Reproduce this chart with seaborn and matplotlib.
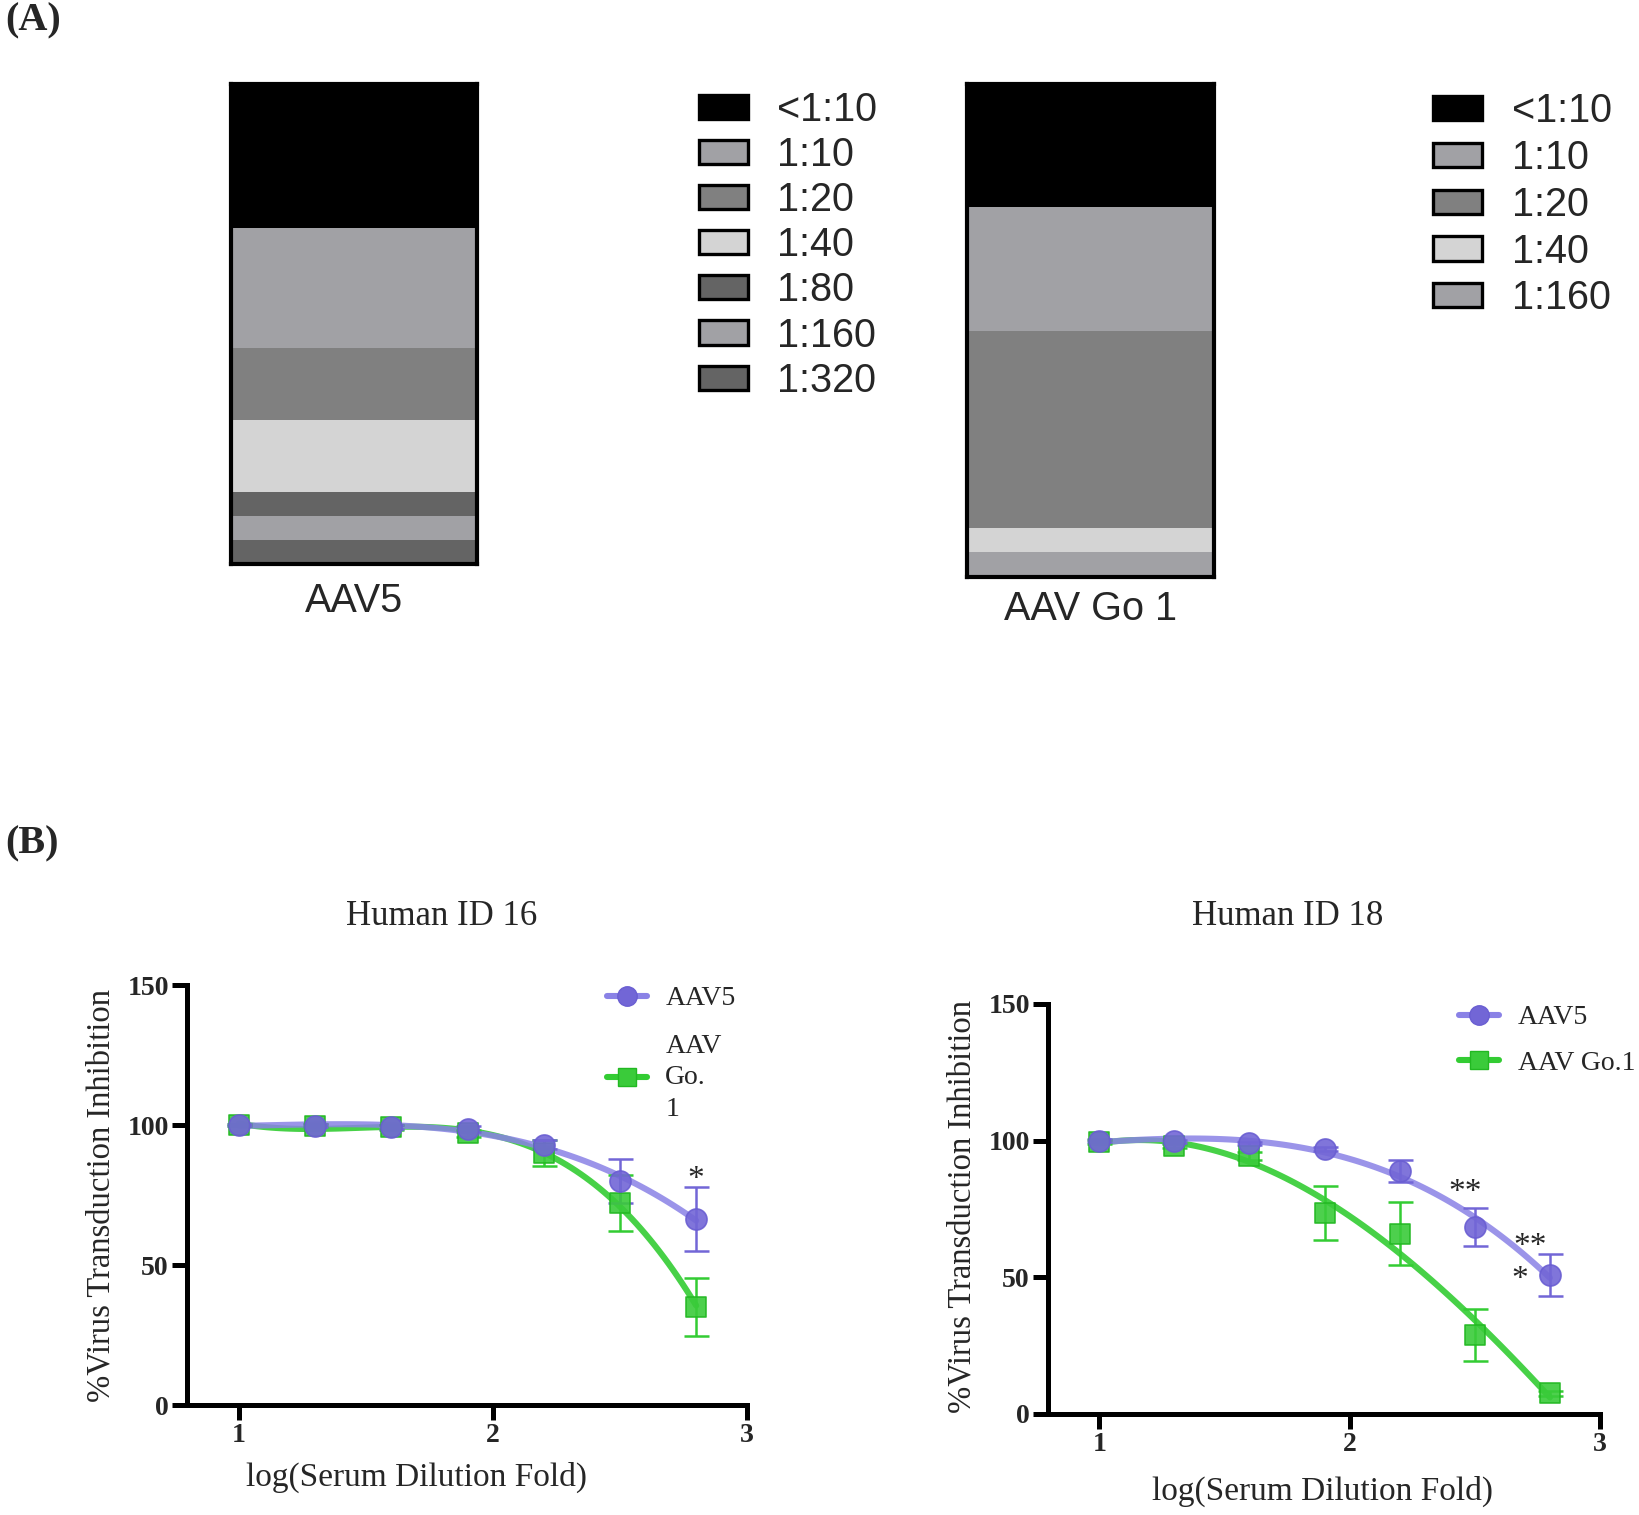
import numpy as np
import pandas as pd
import seaborn as sns
import matplotlib.pyplot as plt
from matplotlib.patches import Patch
from matplotlib.lines import Line2D

# ---- panel A data: share of sera per NAb titer (%)
titers_aav5 = ["<1:10", "1:10", "1:20", "1:40", "1:80", "1:160", "1:320"]
pct_aav5 = [30, 25, 15, 15, 5, 5, 5]
titers_go1 = ["<1:10", "1:10", "1:20", "1:40", "1:160"]
pct_go1 = [25, 25, 40, 5, 5]
titer_colors = {"<1:10": "#000000", "1:10": "#a1a1a5", "1:20": "#808080",
                "1:40": "#d4d4d4", "1:80": "#646464", "1:160": "#a1a1a5",
                "1:320": "#646464"}

# ---- panel B data
log_dil = [1.0, 1.3, 1.6, 1.9, 2.2, 2.5, 2.8]
id16_aav5 = [100, 99.8, 99.3, 98.5, 93, 80, 66.5]
id16_aav5_err = [0.5, 0.5, 0.6, 1.0, 1.5, 8, 11.5]
id16_go1 = [100, 99.8, 99.2, 97, 90, 72, 35]
id16_go1_err = [0.5, 0.5, 0.8, 1.2, 4.5, 10, 10.3]
id18_aav5 = [100, 99.8, 99, 97, 89, 68.5, 51]
id18_aav5_err = [0.5, 0.5, 0.6, 0.8, 4, 7, 7.7]
id18_go1 = [99.5, 98, 94.5, 73.5, 66, 29, 7.5]
id18_go1_err = [0.6, 0.8, 1.5, 10, 11.5, 9.5, 1.0]

PURPLE_LINE = "#8a82e6"
PURPLE_MK = "#7266d6"
GREEN_LINE = "#33cc33"
GREEN_MK = "#3acb3a"

sns.set_style("white")
plt.rcParams["font.family"] = ["Liberation Sans", "DejaVu Sans"]
SERIF = ["Liberation Serif", "DejaVu Serif"]

fig = plt.figure(figsize=(16.4, 15.15), dpi=100)


def stacked_bar(rect, titers, pct, name, leg_anchor, leg_spacing, labelpad):
    ax = fig.add_axes(rect)
    bottom = 0
    for t, p in zip(titers, pct):
        ax.bar(0, p, bottom=bottom, width=1.0, color=titer_colors[t],
               edgecolor="none", label=t)
        bottom += p
    ax.set_xlim(-0.5, 0.5)
    ax.set_ylim(100, 0)
    ax.set_xticks([])
    ax.set_yticks([])
    for s in ax.spines.values():
        s.set_visible(True)
        s.set_color("black")
        s.set_linewidth(3)
    ax.set_xlabel(name, fontsize=28.5, labelpad=labelpad)
    handles = [Patch(facecolor=titer_colors[t], edgecolor="black", linewidth=2.4)
               for t in titers]
    fig.legend(handles, titers, loc="upper left", bbox_to_anchor=leg_anchor,
               bbox_transform=fig.transFigure, frameon=False, fontsize=28.5,
               handlelength=1.24, handleheight=0.56, handletextpad=0.75,
               labelspacing=leg_spacing, borderpad=0, borderaxespad=0)


stacked_bar([0.1409, 0.6277, 0.150, 0.3168], titers_aav5, pct_aav5, "AAV5",
            (0.426, 0.940), 0.18, 13)
stacked_bar([0.5896, 0.6191, 0.1506, 0.3254], titers_go1, pct_go1, "AAV Go 1",
            (0.874, 0.939), 0.22, 9)


def curve_panel(rect, y_a, e_a, y_g, e_g, title, title_xy, xlab_xy, ylab_xy,
                leg_xy, go_label, leg_spacing):
    ax = fig.add_axes(rect)
    df = pd.DataFrame({"x": log_dil, "aav5": y_a, "go1": y_g})
    # fitted curves
    sns.regplot(data=df, x="x", y="go1", order=3, ci=None, scatter=False, ax=ax,
                line_kws=dict(color=GREEN_LINE, lw=4.4, alpha=0.9, zorder=2))
    sns.regplot(data=df, x="x", y="aav5", order=3, ci=None, scatter=False, ax=ax,
                line_kws=dict(color=PURPLE_LINE, lw=4.4, alpha=0.85, zorder=3))
    # error bars and points
    ax.errorbar(log_dil, y_g, yerr=e_g, fmt="none", ecolor=GREEN_LINE,
                elinewidth=1.8, capsize=9, capthick=1.8, zorder=4)
    ax.errorbar(log_dil, y_a, yerr=e_a, fmt="none", ecolor=PURPLE_MK,
                elinewidth=1.8, capsize=9, capthick=1.8, zorder=4)
    sns.scatterplot(data=df, x="x", y="go1", marker="s", s=215, color=GREEN_MK,
                    edgecolor="#22b822", linewidth=1.2, alpha=0.9, ax=ax, zorder=5)
    sns.scatterplot(data=df, x="x", y="aav5", marker="o", s=230, color=PURPLE_MK,
                    edgecolor="#6a5ed2", linewidth=1.2, alpha=0.9, ax=ax, zorder=6)

    ax.set_xlim(0.795, 3.0)
    ax.set_ylim(0, 150)
    ax.set_xticks([1, 2, 3])
    ax.set_yticks([0, 50, 100, 150])
    sns.despine(ax=ax)
    for s in ("left", "bottom"):
        ax.spines[s].set_linewidth(3.6)
        ax.spines[s].set_color("black")
    ax.tick_params(axis="both", direction="out", length=11, width=3.6,
                   color="black", pad=2, labelsize=20, bottom=True, left=True)
    for lab in ax.get_xticklabels() + ax.get_yticklabels():
        lab.set_fontfamily(SERIF)
        lab.set_fontweight("bold")
    ax.set_xlabel("log(Serum Dilution Fold)", fontsize=24, family=SERIF)
    ax.set_ylabel("%Virus Transduction Inhibition", fontsize=23.5, family=SERIF)
    ax.xaxis.set_label_coords(*xlab_xy)
    ax.yaxis.set_label_coords(*ylab_xy)
    fig.text(title_xy[0], title_xy[1], title, fontsize=25, family=SERIF,
             ha="center", va="center")

    handles = [Line2D([], [], color=PURPLE_LINE, lw=4.4, marker="o", ms=14,
                      mfc=PURPLE_MK, mec="#6a5ed2"),
               Line2D([], [], color=GREEN_LINE, lw=4.4, marker="s", ms=13.5,
                      mfc=GREEN_MK, mec="#22b822")]
    leg = ax.legend(handles, ["AAV5", go_label], loc="upper left",
                    bbox_to_anchor=leg_xy, frameon=False,
                    prop=dict(family=SERIF, size=20), handlelength=1.45,
                    handletextpad=0.65, labelspacing=leg_spacing, borderpad=0,
                    borderaxespad=0)
    for t in leg.get_texts():
        t.set_linespacing(1.35)
    return ax


ax16 = curve_panel([0.114, 0.0726, 0.3415, 0.2772], id16_aav5, id16_aav5_err,
                   id16_go1, id16_go1_err, "Human ID 16", (0.269, 0.395),
                   (0.41, -0.135), (-0.125, 0.5), (0.75, 0.998),
                   "AAV\nGo.\n1", 0.8)
ax16.text(2.8, 80.5, "*", fontsize=24, family=SERIF, ha="center", va="center")

ax18 = curve_panel([0.639, 0.0667, 0.3366, 0.2706], id18_aav5, id18_aav5_err,
                   id18_go1, id18_go1_err, "Human ID 18", (0.785, 0.395),
                   (0.498, -0.152), (-0.128, 0.507), (0.745, 0.998),
                   "AAV Go.1", 0.72)
ax18.text(2.46, 81, "**", fontsize=24, family=SERIF, ha="center", va="center")
ax18.text(2.72, 61, "**", fontsize=24, family=SERIF, ha="center", va="center")
ax18.text(2.68, 49, "*", fontsize=24, family=SERIF, ha="center", va="center")

fig.text(0.003, 0.986, "(A)", fontsize=29, family=SERIF, fontweight="bold",
         ha="left", va="center")
fig.text(0.003, 0.443, "(B)", fontsize=29, family=SERIF, fontweight="bold",
         ha="left", va="center")

fig.savefig("out.png", dpi=100)
